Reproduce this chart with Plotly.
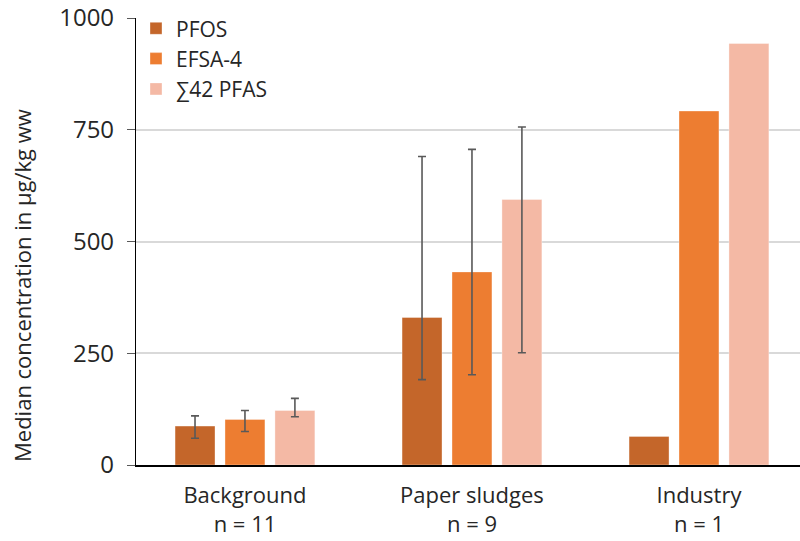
import plotly.graph_objects as go

categories = ["Background<br>n = 11", "Paper sludges<br>n = 9", "Industry<br>n = 1"]
series_names = ["PFOS", "EFSA-4", "∑42 PFAS"]
pfos = [87, 330, 64]
pfos_hi = [110, 690, None]
pfos_lo = [60, 191, None]
efsa = [102, 432, 792]
efsa_hi = [122, 706, None]
efsa_lo = [75, 202, None]
sum42 = [122, 594, 943]
sum42_hi = [149, 756, None]
sum42_lo = [108, 251, None]
colors = ["#C4662A", "#ED7D31", "#F4B9A5"]
y_ticks = [0, 250, 500, 750, 1000]

FONT = "Open Sans, Noto Sans, sans-serif"
TXT = "#262626"

fig = go.Figure()
for name, v, hi, lo, c in [
    (series_names[0], pfos, pfos_hi, pfos_lo, colors[0]),
    (series_names[1], efsa, efsa_hi, efsa_lo, colors[1]),
    (series_names[2], sum42, sum42_hi, sum42_lo, colors[2]),
]:
    marker = dict(color=c, line=dict(color="rgba(255,255,255,0.35)", width=1))
    idx_err = [i for i in range(len(v)) if hi[i] is not None]
    idx_no = [i for i in range(len(v)) if hi[i] is None]
    fig.add_trace(go.Bar(
        name=name, x=[categories[i] for i in idx_err], y=[v[i] for i in idx_err],
        marker=marker, offsetgroup=name, legendgroup=name, showlegend=True,
        error_y=dict(type="data", symmetric=False,
                     array=[hi[i] - v[i] for i in idx_err],
                     arrayminus=[v[i] - lo[i] for i in idx_err],
                     color="#595959", thickness=1.6, width=4),
    ))
    if idx_no:
        fig.add_trace(go.Bar(
            name=name, x=[categories[i] for i in idx_no], y=[v[i] for i in idx_no],
            marker=marker, offsetgroup=name, legendgroup=name, showlegend=False,
        ))

W, H = 800, 541
L, T, B = 136, 18, 76
fig.update_layout(
    width=W, height=H,
    margin=dict(l=L, r=0, t=T, b=B),
    paper_bgcolor="white", plot_bgcolor="white",
    barmode="group", bargap=0.34, bargroupgap=0.2,
    font=dict(family=FONT, size=22, color=TXT),
    showlegend=True,
    legend=dict(x=0.0, y=1.022, xanchor="left", yanchor="top",
                bgcolor="rgba(0,0,0,0)", font=dict(size=21, color=TXT),
                tracegroupgap=0),
    xaxis=dict(type="category", categoryorder="array", categoryarray=categories,
               range=[-0.48, 2.445], showline=True, linecolor="black", linewidth=1.5,
               ticks="", showgrid=False, tickfont=dict(size=22, color=TXT),
               ticklabelstandoff=10),
    yaxis=dict(range=[0, 1000], tickvals=y_ticks, ticktext=[str(t) for t in y_ticks],
               showline=True, linecolor="black", linewidth=1.2,
               ticks="outside", ticklen=8, tickcolor="#595959", tickwidth=1.2,
               showgrid=True, gridcolor="#D9D9D9", gridwidth=1.5,
               zeroline=False, tickfont=dict(size=24, color=TXT),
               ticklabelstandoff=8),
)
fig.add_annotation(
    text="Median concentration in µg/kg ww", textangle=-90,
    xref="paper", yref="paper",
    x=(22 - L) / (W - L), y=(465 - 286) / (465 - T),
    xanchor="center", yanchor="middle", showarrow=False,
    font=dict(size=22, color=TXT),
)
fig.write_html("out.html")
